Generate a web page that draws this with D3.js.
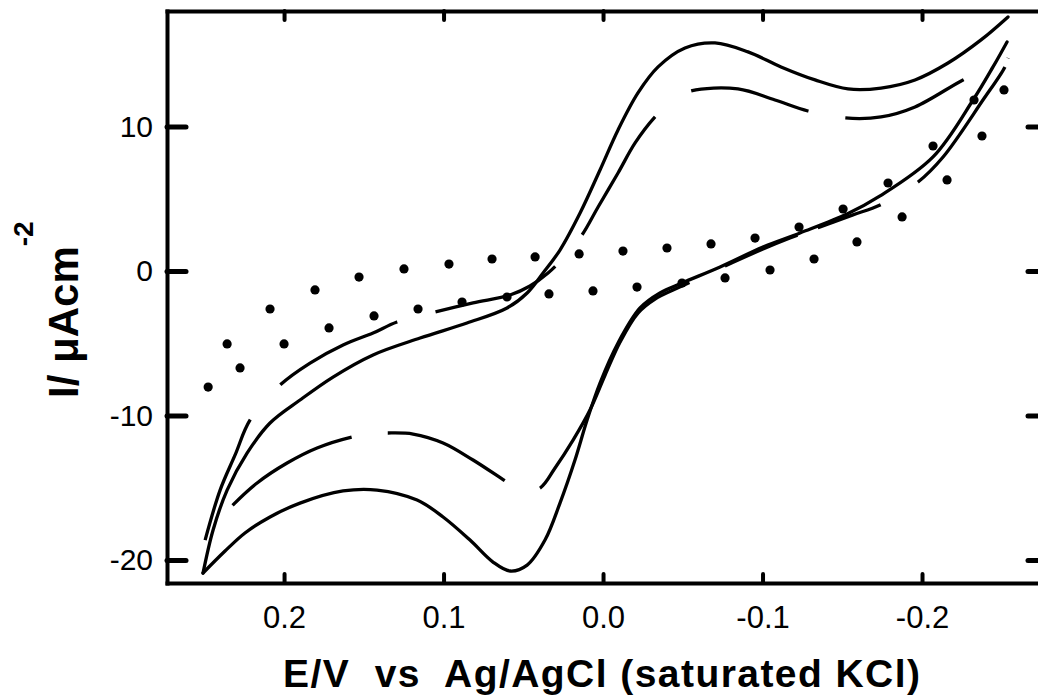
<!DOCTYPE html>
<html><head><meta charset="utf-8">
<script src="https://cdn.jsdelivr.net/npm/d3@7"></script>
<style>
body{margin:0;background:#fff}
svg{display:block;background:#fff}
text{font-family:"Liberation Sans",Arial,Helvetica,sans-serif;fill:#000;white-space:pre}
</style>
</head><body>
<svg id="chart" width="1038" height="698"></svg>
<script>
// ---------- data ----------
const xTicks = [0.2, 0.1, 0.0, -0.1, -0.2];
const xTickLabels = ["0.2", "0.1", "0.0", "-0.1", "-0.2"];
const yTicks = [10, 0, -10, -20];
const yTickLabels = ["10", "0", "-10", "-20"];
const xTitle = "E/V  vs  Ag/AgCl (saturated KCl)";
const yTitleMain = "I/ ";
const yTitleUnit = "\u03bcAcm";
const yTitleSup = "-2";

// solid voltammogram: upper branch (left vertex -> right end)
const solidUpperE = [0.2508,0.2445,0.2357,0.2232,0.2088,0.1900,0.1693,0.1442,0.1147,0.0853,0.0602,0.0476,0.0376,0.0270,0.0144,0.0019,-0.0094,-0.0219,-0.0345,-0.0514,-0.0702,-0.0909,-0.1116,-0.1329,-0.1536,-0.1743,-0.1956,-0.2163,-0.2370,-0.2539];
const solidUpperI = [-20.90,-17.92,-15.16,-12.60,-10.52,-8.93,-7.34,-5.81,-4.64,-3.60,-2.56,-1.52,-0.14,1.45,4.01,6.99,9.76,12.32,14.12,15.43,15.78,15.16,14.12,13.22,12.60,12.66,13.22,14.39,15.99,17.58];
// solid voltammogram: lower branch (left vertex -> right end)
const solidLowerE = [0.2508,0.2370,0.2245,0.2088,0.1900,0.1630,0.1417,0.1166,0.1003,0.0834,0.0690,0.0583,0.0476,0.0364,0.0270,0.0176,0.0100,0.0019,-0.0094,-0.0232,-0.0357,-0.0495,-0.0734,-0.1003,-0.1235,-0.1530,-0.1737,-0.2069,-0.2320,-0.2445,-0.2533];
const solidLowerI = [-20.90,-19.38,-18.13,-17.02,-16.06,-15.22,-15.16,-15.85,-17.02,-18.62,-20.14,-20.76,-20.35,-18.62,-16.06,-13.08,-10.31,-7.75,-4.98,-2.56,-1.52,-0.83,0.28,1.66,2.63,3.94,5.19,7.89,11.83,14.12,15.85];

// dashed voltammogram: upper branch (left vertex -> right vertex)
const dashUpperE = [0.2495,0.2401,0.2307,0.2213,0.2025,0.1837,0.1630,0.1442,0.1292,0.1053,0.0815,0.0583,0.0458,0.0345,0.0232,0.0132,0.0031,-0.0094,-0.0201,-0.0326,-0.0439,-0.0552,-0.0846,-0.1078,-0.1285,-0.1517,-0.1743,-0.1956,-0.2257,-0.2410,-0.2539];
const dashUpperI = [-18.62,-15.16,-12.73,-10.31,-7.89,-6.37,-5.12,-4.29,-3.53,-2.84,-2.21,-1.66,-1.04,-0.14,1.11,2.49,4.43,6.78,8.86,10.66,11.83,12.46,12.60,11.83,11.07,10.59,10.66,11.35,13.22,14.00,14.74];
// dashed voltammogram: lower branch (right vertex -> left vertex)
const dashLowerE = [-0.2539,-0.2520,-0.2382,-0.2132,-0.1975,-0.1737,-0.1567,-0.1361,-0.1172,-0.1003,-0.0765,-0.0495,-0.0326,-0.0219,-0.0107,-0.0013,0.0082,0.0188,0.0301,0.0395,0.0508,0.0614,0.0815,0.1003,0.1191,0.1348,0.1461,0.1574,0.1793,0.1981,0.2169,0.2320,0.2426,0.2495];
const dashLowerI = [14.74,14.12,11.83,7.89,6.16,4.57,3.88,3.05,2.28,1.52,0.35,-1.04,-1.94,-2.91,-4.91,-7.20,-9.62,-11.70,-13.63,-15.02,-15.29,-14.53,-13.08,-11.90,-11.28,-11.21,-11.28,-11.49,-12.25,-13.29,-14.67,-16.19,-17.51,-18.62];

// dotted voltammogram (sampled points)
const dotUpperE = [0.2357,0.2088,0.1806,0.1530,0.1248,0.0966,0.0696,0.0426,0.0150,-0.0125,-0.0401,-0.0677,-0.0953,-0.1229,-0.1505,-0.1787,-0.2069,-0.2326,-0.2514];
const dotUpperI = [-5.05,-2.63,-1.31,-0.42,0.14,0.48,0.83,0.97,1.18,1.38,1.59,1.87,2.28,3.04,4.29,6.09,8.65,11.83,12.53];
const dotLowerE = [0.2476,0.2276,0.2000,0.1718,0.1436,0.1160,0.0884,0.0602,0.0339,0.0063,-0.0213,-0.0495,-0.0765,-0.1047,-0.1323,-0.1592,-0.1875,-0.2157,-0.2376];
const dotLowerI = [-8.03,-6.71,-5.05,-3.94,-3.11,-2.63,-2.15,-1.80,-1.59,-1.38,-1.11,-0.83,-0.48,0.07,0.83,2.01,3.74,6.30,9.34];

// ---------- style: where the dashed trace has its gaps (potential ranges, V) ----------
const dashUpperGaps = [[0.2213,0.2025],[0.1292,0.1053],[0.0301,0.0132],[-0.0326,-0.0552],[-0.1285,-0.1517],[-0.2257,-0.2539]];
const dashLowerGaps = [[-0.2539,-0.2520],[-0.1975,-0.1743],[-0.1348,-0.1223],[-0.0765,-0.0545],[0.0395,0.0614],[0.1348,0.1574],[0.2320,0.2495]];

// ---------- layout ----------
const L = 167, T = 11, R = 1041, B = 583;
const svg = d3.select("#chart");
const x = d3.scaleLinear().domain([0.2734, -0.2746]).range([L, R]);
const y = d3.scaleLinear().domain([-21.59, 17.99]).range([B, T]);
const FONT = '"Liberation Sans", Arial, Helvetica, sans-serif';

// axes / frame
const gB = svg.append("g").attr("transform", `translate(0,${B})`)
  .call(d3.axisBottom(x).tickValues(xTicks).tickFormat((d, i) => xTickLabels[i])
    .tickSizeInner(-9).tickSizeOuter(0).tickPadding(23));
const gT = svg.append("g").attr("transform", `translate(0,${T})`)
  .call(d3.axisTop(x).tickValues(xTicks).tickFormat("").tickSizeInner(-9).tickSizeOuter(0));
const gL = svg.append("g").attr("transform", `translate(${L},0)`)
  .call(d3.axisLeft(y).tickValues(yTicks).tickFormat((d, i) => yTickLabels[i])
    .tickSizeInner(-19).tickSizeOuter(0).tickPadding(14));
const gR = svg.append("g").attr("transform", `translate(${R},0)`)
  .call(d3.axisRight(y).tickValues(yTicks).tickFormat("").tickSizeInner(-13).tickSizeOuter(0));

[gB, gT, gL, gR].forEach(g => {
  g.attr("font-size", 30).attr("font-family", FONT);
  g.select(".domain").attr("stroke", "#000").attr("stroke-width", 4).attr("stroke-linecap", "square");
  g.selectAll(".tick line").attr("stroke", "#000").attr("stroke-width", 4).attr("stroke-linecap", "round");
  g.selectAll(".tick text").attr("fill", "#000");
});
gB.attr("font-size", 31);
gL.selectAll(".tick line").attr("stroke-width", 5);
gR.selectAll(".tick line").attr("stroke-width", 5);

// ---------- curves ----------
const pts = (E, I) => E.map((e, i) => [e, I[i]]);
const line = d3.line().x(d => x(d[0])).y(d => y(d[1])).curve(d3.curveCatmullRom.alpha(0.5));

const curves = svg.append("g").attr("fill", "none").attr("stroke", "#000")
  .attr("stroke-width", 3.3).attr("stroke-linecap", "round").attr("stroke-linejoin", "round");

curves.append("path").attr("d", line(pts(solidUpperE, solidUpperI)));
curves.append("path").attr("d", line(pts(solidLowerE, solidLowerI)));

// dash pattern whose gaps fall at the given potential ranges
function dashFor(path, gaps, rightward) {
  const node = path.node();
  const total = node.getTotalLength();
  const lengthAtX = px => {
    for (let s = 0; s <= total; s += 0.5) {
      const p = node.getPointAtLength(s);
      if (rightward ? p.x >= px : p.x <= px) return s;
    }
    return total;
  };
  const arr = [];
  let pos = 0;
  gaps.forEach(([e0, e1]) => {
    const a = lengthAtX(x(e0)), b = lengthAtX(x(e1));
    arr.push(Math.max(a - pos, 0.001), Math.max(b - a, 0.001));
    pos = b;
  });
  if (pos < total) arr.push(total - pos + 1, 1000);
  return arr.join(" ");
}

const dU = curves.append("path").attr("d", line(pts(dashUpperE, dashUpperI)));
dU.attr("stroke-dasharray", dashFor(dU, dashUpperGaps, true)).attr("stroke-linecap", "butt");
const dL = curves.append("path").attr("d", line(pts(dashLowerE, dashLowerI)));
dL.attr("stroke-dasharray", dashFor(dL, dashLowerGaps, false)).attr("stroke-linecap", "butt");

svg.append("g").selectAll("circle")
  .data(pts(dotUpperE, dotUpperI).concat(pts(dotLowerE, dotLowerI)))
  .join("circle")
  .attr("cx", d => x(d[0])).attr("cy", d => y(d[1])).attr("r", 4.6).attr("fill", "#000");

// ---------- titles ----------
svg.append("text")
  .attr("x", 601.5).attr("y", 687).attr("text-anchor", "middle")
  .attr("font-size", 39).attr("font-weight", "bold")
  .attr("textLength", 637).attr("lengthAdjust", "spacing")
  .text(xTitle);

const yt = svg.append("text").attr("transform", "translate(78,398) rotate(-90)")
  .attr("font-size", 42).attr("font-weight", "bold");
yt.append("tspan").text(yTitleMain);
yt.append("tspan").text(yTitleUnit);
yt.append("tspan").attr("font-size", 28).attr("dy", -45).text(yTitleSup);
</script>
</body></html>
